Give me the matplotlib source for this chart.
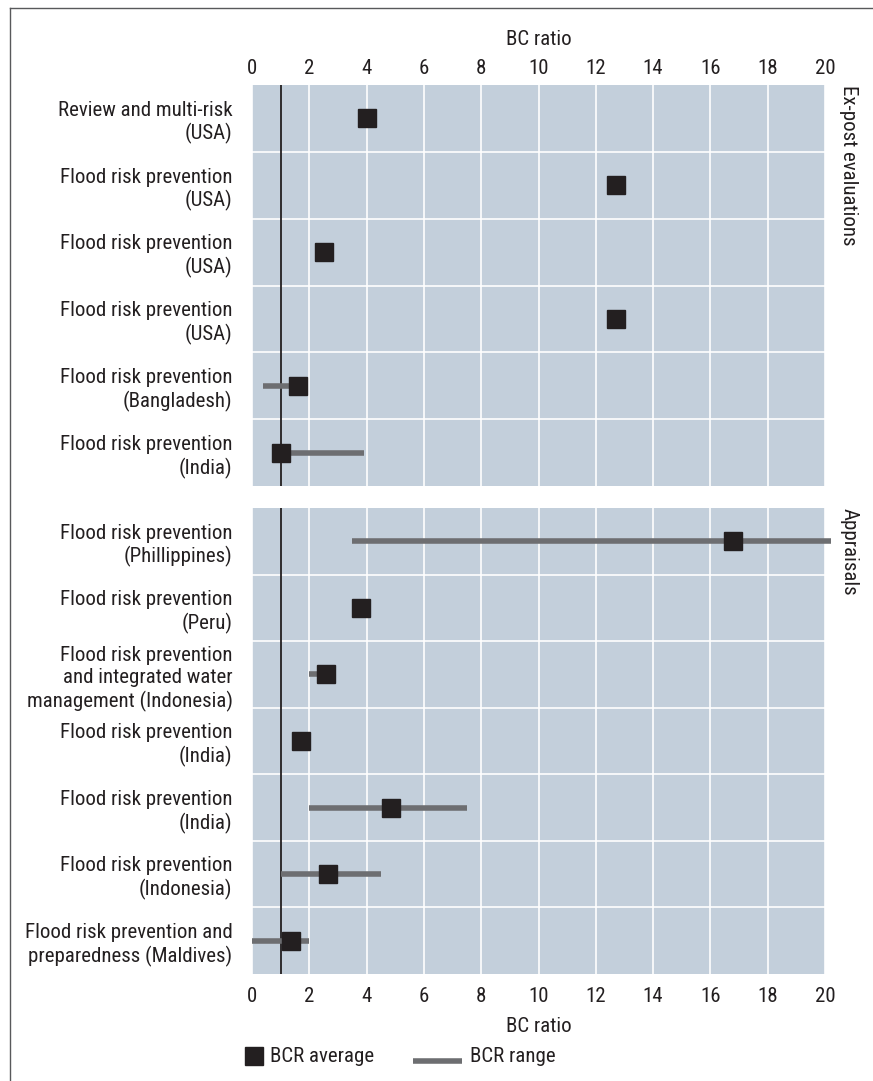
import matplotlib
matplotlib.use("Agg")
import matplotlib.pyplot as plt
from matplotlib.lines import Line2D
from matplotlib.patches import Rectangle

plt.rcParams['font.family'] = ['Liberation Sans Narrow', 'DejaVu Sans Condensed',
                               'Roboto Condensed', 'Roboto', 'DejaVu Sans']

# Ex-post evaluations
expost_labels = [
    "Review and multi-risk\n(USA)",
    "Flood risk prevention\n(USA)",
    "Flood risk prevention\n(USA)",
    "Flood risk prevention\n(USA)",
    "Flood risk prevention\n(Bangladesh)",
    "Flood risk prevention\n(India)",
]
expost_avg = [4.0, 12.7, 2.5, 12.7, 1.6, 1.0]
expost_low = [None, None, None, None, 0.4, 1.0]
expost_high = [None, None, None, None, 1.6, 3.9]

# Appraisals
appr_labels = [
    "Flood risk prevention\n(Phillippines)",
    "Flood risk prevention\n(Peru)",
    "Flood risk prevention\nand integrated water\nmanagement (Indonesia)",
    "Flood risk prevention\n(India)",
    "Flood risk prevention\n(India)",
    "Flood risk prevention\n(Indonesia)",
    "Flood risk prevention and\npreparedness (Maldives)",
]
appr_avg = [16.8, 3.8, 2.6, 1.7, 4.85, 2.65, 1.35]
appr_low = [3.5, None, 2.0, None, 2.0, 1.0, 0.0]
appr_high = [20.2, None, 2.6, None, 7.5, 4.5, 2.0]

xticks = list(range(0, 21, 2))
break_even = 1.0

BG = '#c3cfdb'
SQUARE = '#231f20'
RANGE = '#6d6e71'
TEXT = '#231f20'
W, H = 873, 1081
LABEL_FS = 15
TICK_FS = 15

fig = plt.figure(figsize=(W / 100, H / 100), dpi=100)


def px_axes(left, top, right, bottom):
    return fig.add_axes([left / W, 1 - bottom / H, (right - left) / W, (bottom - top) / H])


def draw_panel(ax, labels, avg, low, high, title, top_ticks):
    n = len(labels)
    rows = list(range(n))
    ax.set_facecolor(BG)
    ax.set_xlim(0, 20)
    ax.set_ylim(n - 0.5, -0.5)
    ax.set_xticks(xticks)
    ax.set_yticks(rows, labels)
    ax.set_yticks([r + 0.5 for r in rows[:-1]], minor=True)
    ax.grid(True, axis='x', which='major', color='white', lw=1.2)
    ax.grid(True, axis='y', which='minor', color='white', lw=1.2)
    ax.tick_params(axis='y', which='both', length=0, pad=14, labelsize=LABEL_FS,
                   labelcolor=TEXT)
    for lab in ax.get_yticklabels():
        lab.set_linespacing(1.22)
    if top_ticks:
        ax.tick_params(axis='x', length=0, labeltop=True, labelbottom=False,
                       labelsize=TICK_FS, pad=5, labelcolor=TEXT)
    else:
        ax.tick_params(axis='x', length=0, labelsize=TICK_FS, pad=9, labelcolor=TEXT)
    for s in ax.spines.values():
        s.set_visible(False)
    ax.set_axisbelow(True)
    ax.axvline(break_even, color=TEXT, lw=1.3, zorder=2)
    for r, a, lo, hi in zip(rows, avg, low, high):
        if lo is not None:
            ax.plot([lo, hi], [r, r], color=RANGE, lw=4, solid_capstyle='butt',
                    zorder=3, clip_on=False)
        ax.plot([a], [r], marker='s', ms=13, color=SQUARE, ls='none', zorder=4)
    ax.text(1.025, 1.0, title, transform=ax.transAxes, rotation=-90,
            ha='left', va='top', fontsize=LABEL_FS, color=TEXT)


ax1 = px_axes(252, 85, 825, 486)
ax2 = px_axes(252, 508, 825, 974)
draw_panel(ax1, expost_labels, expost_avg, expost_low, expost_high,
           "Ex-post evaluations", True)
draw_panel(ax2, appr_labels, appr_avg, appr_low, appr_high, "Appraisals", False)

ax1.set_xlabel("BC ratio", fontsize=TICK_FS, labelpad=10, color=TEXT)
ax1.xaxis.set_label_position('top')
ax2.set_xlabel("BC ratio", fontsize=TICK_FS, labelpad=8, color=TEXT)

# outer frame (top and left edges)
fig.add_artist(Line2D([10 / W, 1], [1 - 8 / H, 1 - 8 / H], color='#58595b', lw=1))
fig.add_artist(Line2D([10 / W, 10 / W], [0, 1 - 8 / H], color='#58595b', lw=1))

# legend
fig.add_artist(Rectangle((245 / W, 1 - 1065 / H), 18 / W, 18 / H, color=SQUARE))
fig.text(270 / W, 1 - 1057 / H, "BCR average", fontsize=TICK_FS, va='center', color=TEXT)
fig.add_artist(Line2D([413 / W, 462 / W], [1 - 1061 / H, 1 - 1061 / H], color=RANGE, lw=4,
                      solid_capstyle='butt'))
fig.text(470 / W, 1 - 1057 / H, "BCR range", fontsize=TICK_FS, va='center', color=TEXT)

fig.savefig("out.png", dpi=100)
